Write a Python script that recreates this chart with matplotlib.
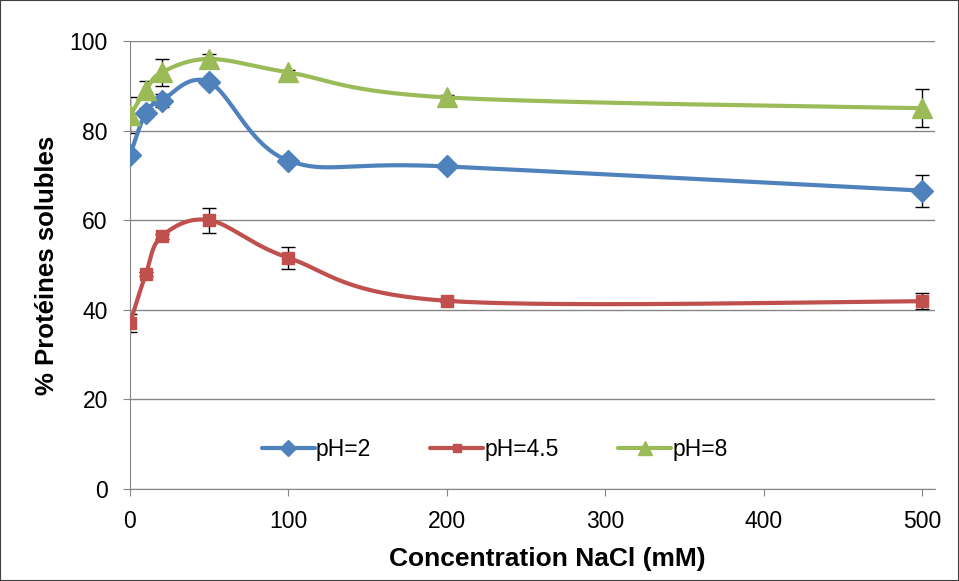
import numpy as np
import matplotlib.pyplot as plt
from matplotlib.lines import Line2D
from matplotlib.patches import Rectangle

# Data
nacl = [0, 10, 20, 50, 100, 200, 500]
ph2 = [74.5, 84.0, 86.7, 90.8, 73.3, 72.0, 66.6]
ph2_err = [0.5, 1.0, 1.5, 0.8, 0.5, 0.4, 3.6]
ph45 = [37.0, 48.0, 56.4, 60.0, 51.6, 42.0, 41.9]
ph45_err = [2.0, 0.5, 0.5, 2.8, 2.4, 0.3, 1.8]
ph8 = [83.4, 89.0, 93.0, 96.0, 93.0, 87.4, 85.0]
ph8_err = [4.0, 2.0, 3.0, 1.0, 0.5, 0.5, 4.3]
labels = ['pH=2', 'pH=4.5', 'pH=8']
colors = ['#4F81BD', '#C0504D', '#9BBB59']
markers = ['D', 's', '^']
msizes = [11, 8, 14]

plt.rcParams['font.family'] = ['Liberation Sans', 'DejaVu Sans']


def smooth(x, y, n=40):
    # Excel-like smoothed line: cubic Bezier through the points
    x = np.asarray(x, float)
    y = np.asarray(y, float)
    px = np.concatenate([[x[0]], x, [x[-1]]])
    py = np.concatenate([[y[0]], y, [y[-1]]])
    xs, ys = [], []
    t = np.linspace(0, 1, n)
    for i in range(len(x) - 1):
        p0 = np.array([x[i], y[i]])
        p3 = np.array([x[i + 1], y[i + 1]])
        p1 = p0 + (np.array([px[i + 2], py[i + 2]]) - np.array([px[i], py[i]])) / 6
        p2 = p3 - (np.array([px[i + 3], py[i + 3]]) - np.array([px[i + 1], py[i + 1]])) / 6
        b = ((1 - t) ** 3)[:, None] * p0 + (3 * (1 - t) ** 2 * t)[:, None] * p1 \
            + (3 * (1 - t) * t ** 2)[:, None] * p2 + (t ** 3)[:, None] * p3
        xs.append(b[:, 0])
        ys.append(b[:, 1])
    return np.concatenate(xs), np.concatenate(ys)


fig = plt.figure(figsize=(9.59, 5.81), dpi=100)
ax = fig.add_axes([130 / 959, 1 - 489 / 581, 805 / 959, 448 / 581])

handles = []
for y, err, c, m, ms, lab in zip([ph2, ph45, ph8], [ph2_err, ph45_err, ph8_err],
                                 colors, markers, msizes, labels):
    sx, sy = smooth(nacl, y)
    ax.errorbar(nacl, y, yerr=err, fmt='none', ecolor='black', elinewidth=1,
                capsize=5, capthick=1, zorder=2)
    ax.plot(sx, sy, color=c, lw=3, zorder=3, solid_capstyle='round')
    ax.plot(nacl, y, ls='none', marker=m, ms=ms, color=c, mec=c, zorder=4)
    handles.append(Line2D([], [], color=c, lw=3, marker=m, ms=ms * 0.75, mec=c,
                          solid_capstyle='round'))

ax.set_xlim(0, 508)
ax.set_ylim(0, 100)
ax.set_xticks([0, 100, 200, 300, 400, 500])
ax.set_yticks([0, 20, 40, 60, 80, 100])
ax.yaxis.grid(True, color='#868686', lw=1)
ax.set_axisbelow(True)
for s in ['top', 'right']:
    ax.spines[s].set_visible(False)
for s in ['left', 'bottom']:
    ax.spines[s].set_color('#868686')
ax.tick_params(axis='both', colors='#868686', labelcolor='black', labelsize=16.5,
               length=5, direction='out')
ax.tick_params(axis='x', pad=10)
ax.tick_params(axis='y', pad=11)

ax.set_xlabel('Concentration NaCl (mM)', fontsize=19, fontweight='bold')
ax.xaxis.set_label_coords((547 - 130) / 805, -(547 - 489) / 448)
ax.set_ylabel('% Protéines solubles', fontsize=18.5, fontweight='bold')
ax.yaxis.set_label_coords(-(130 - 59) / 805, 0.5)

ax.legend(handles, labels, loc='center', bbox_to_anchor=(0.453, 0.088), ncol=3,
          frameon=False, fontsize=16.5, handlelength=2.3, handletextpad=0.05,
          columnspacing=2.6)

fig.patches.append(Rectangle((0, 0), 1, 1, transform=fig.transFigure, fill=False,
                             edgecolor='#404040', lw=1.5))

fig.savefig('out.png', dpi=100)
